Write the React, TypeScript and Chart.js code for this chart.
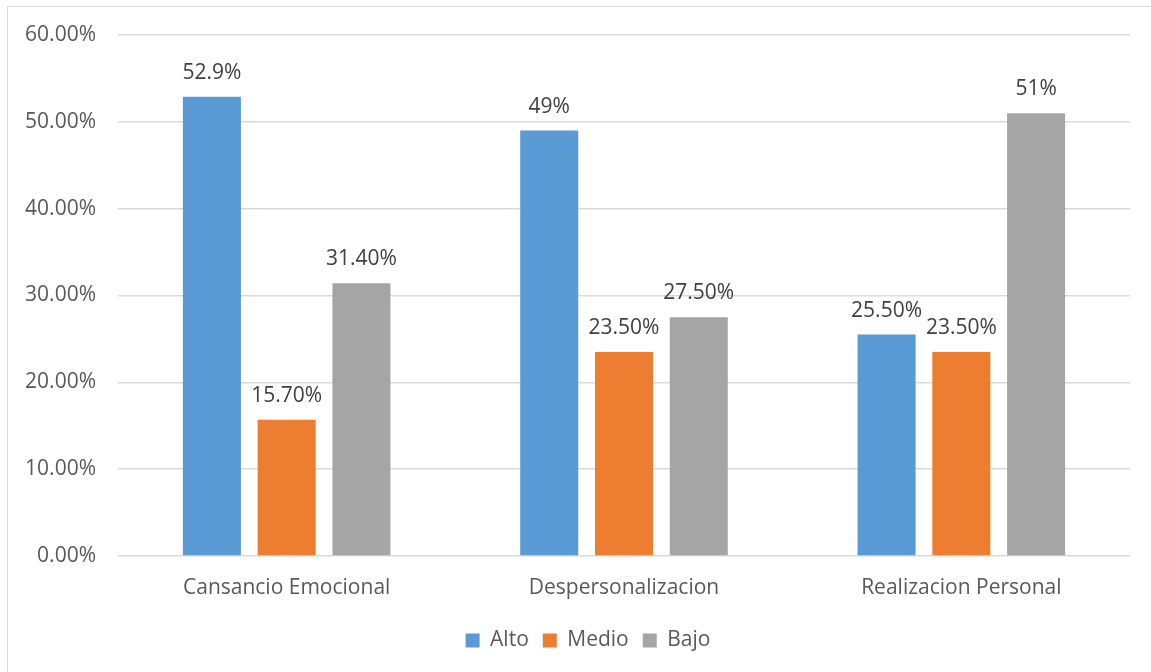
import React, { useEffect, useRef } from "react";
import { Chart, registerables } from "chart.js";

Chart.register(...registerables);

const categories = ["Cansancio Emocional", "Despersonalizacion", "Realizacion Personal"];
const altoValues = [52.9, 49, 25.5];
const medioValues = [15.7, 23.5, 23.5];
const bajoValues = [31.4, 27.5, 51];
const altoLabels = ["52.9%", "49%", "25.50%"];
const medioLabels = ["15.70%", "23.50%", "23.50%"];
const bajoLabels = ["31.40%", "27.50%", "51%"];
const seriesNames = ["Alto", "Medio", "Bajo"];
const yTicks = [0, 10, 20, 30, 40, 50, 60];

const FONT = "'Open Sans', 'Noto Sans', sans-serif";
const FS = 21;

const labelPlugin = {
  id: "valueLabels",
  afterLayout(chart: any) {
    if (chart.legend) {
      chart.legend.left += 18;
      chart.legend.right += 18;
    }
  },
  afterDatasetsDraw(chart: any) {
    const ctx = chart.ctx;
    const allLabels = [altoLabels, medioLabels, bajoLabels];
    ctx.save();
    ctx.font = `${FS}px ${FONT}`;
    ctx.fillStyle = "#404040";
    ctx.textAlign = "center";
    ctx.textBaseline = "alphabetic";
    chart.data.datasets.forEach((ds: any, di: number) => {
      const meta = chart.getDatasetMeta(di);
      meta.data.forEach((bar: any, i: number) => {
        ctx.fillText(allLabels[di][i], bar.x, bar.y - 18);
      });
    });
    ctx.restore();
  },
};

export default function App() {
  const ref = useRef<HTMLCanvasElement>(null);
  useEffect(() => {
    if (!ref.current) return;
    const chart = new Chart(ref.current, {
      type: "bar",
      data: {
        labels: categories,
        datasets: [
          { label: seriesNames[0], data: altoValues, backgroundColor: "#5B9BD5" },
          { label: seriesNames[1], data: medioValues, backgroundColor: "#ED7D31" },
          { label: seriesNames[2], data: bajoValues, backgroundColor: "#A5A5A5" },
        ],
      },
      options: {
        animation: false,
        responsive: false,
        maintainAspectRatio: false,
        layout: { padding: { left: 10, right: 21, top: 35, bottom: 11 } },
        datasets: { bar: { categoryPercentage: 0.665, barPercentage: 0.776 } },
        plugins: {
          legend: {
            position: "bottom",
            labels: {
              boxWidth: 14,
              boxHeight: 14,
              padding: 14,
              color: "#595959",
              font: { family: FONT, size: FS },
            },
          },
          tooltip: { enabled: false },
        },
        scales: {
          x: {
            grid: { display: false },
            border: { display: false },
            ticks: { color: "#595959", font: { family: FONT, size: FS }, padding: 11 },
            afterFit(scale: any) {
              scale.height = 60;
            },
          },
          y: {
            min: 0,
            max: 60,
            afterBuildTicks(scale: any) {
              scale.ticks = yTicks.map((v) => ({ value: v }));
            },
            afterFit(scale: any) {
              scale.width = 108;
            },
            grid: { color: "#D9D9D9", lineWidth: 1.5, drawTicks: false },
            border: { display: false },
            ticks: {
              color: "#595959",
              font: { family: FONT, size: FS },
              padding: 22,
              callback: (v: any) => Number(v).toFixed(2) + "%",
            },
          },
        },
      },
      plugins: [labelPlugin],
    });
    return () => chart.destroy();
  }, []);

  return (
    <div style={{ position: "absolute", left: 0, top: 0, width: 1151, height: 672, background: "#fff", overflow: "hidden" }}>
      <div
        style={{
          position: "absolute",
          left: 7,
          top: 6,
          width: 1160,
          height: 700,
          border: "1.5px solid #D9D9D9",
          boxSizing: "border-box",
        }}
      />
      <canvas ref={ref} width={1151} height={672} style={{ position: "absolute", left: 0, top: 0 }} />
    </div>
  );
}
